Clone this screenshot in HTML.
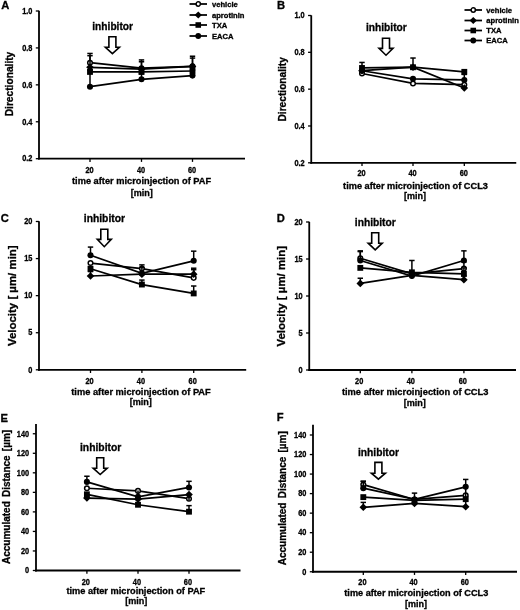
<!DOCTYPE html>
<html><head><meta charset="utf-8"><title>Figure</title>
<style>html,body{margin:0;padding:0;background:#fff;}svg{display:block;will-change:transform;opacity:0.999}text{font-family:"Liberation Sans", sans-serif;font-weight:bold;fill:#000;stroke:#000;stroke-width:0.3px}</style>
</head><body>
<svg width="520" height="610" viewBox="0 0 520 610">
<rect width="520" height="610" fill="#fff"/>
<line x1="39.00" y1="10.80" x2="39.00" y2="159.60" stroke="#000" stroke-width="1.8" stroke-linecap="butt"/>
<line x1="38.10" y1="158.70" x2="245.00" y2="158.70" stroke="#000" stroke-width="1.8" stroke-linecap="butt"/>
<line x1="35.80" y1="11.00" x2="39.00" y2="11.00" stroke="#000" stroke-width="1.3" stroke-linecap="butt"/>
<text transform="translate(32.4 13.75) scale(0.9 1)" font-size="8.2" text-anchor="end">1.0</text>
<line x1="35.80" y1="47.92" x2="39.00" y2="47.92" stroke="#000" stroke-width="1.3" stroke-linecap="butt"/>
<text transform="translate(32.4 50.67) scale(0.9 1)" font-size="8.2" text-anchor="end">0.8</text>
<line x1="35.80" y1="84.85" x2="39.00" y2="84.85" stroke="#000" stroke-width="1.3" stroke-linecap="butt"/>
<text transform="translate(32.4 87.6) scale(0.9 1)" font-size="8.2" text-anchor="end">0.6</text>
<line x1="35.80" y1="121.77" x2="39.00" y2="121.77" stroke="#000" stroke-width="1.3" stroke-linecap="butt"/>
<text transform="translate(32.4 124.52) scale(0.9 1)" font-size="8.2" text-anchor="end">0.4</text>
<line x1="35.80" y1="158.70" x2="39.00" y2="158.70" stroke="#000" stroke-width="1.3" stroke-linecap="butt"/>
<text transform="translate(32.4 161.45) scale(0.9 1)" font-size="8.2" text-anchor="end">0.2</text>
<line x1="90.00" y1="158.70" x2="90.00" y2="161.90" stroke="#000" stroke-width="1.3" stroke-linecap="butt"/>
<text transform="translate(89.5 172.5) scale(0.9 1)" font-size="8.2" text-anchor="middle">20</text>
<line x1="141.50" y1="158.70" x2="141.50" y2="161.90" stroke="#000" stroke-width="1.3" stroke-linecap="butt"/>
<text transform="translate(141.0 172.5) scale(0.9 1)" font-size="8.2" text-anchor="middle">40</text>
<line x1="192.50" y1="158.70" x2="192.50" y2="161.90" stroke="#000" stroke-width="1.3" stroke-linecap="butt"/>
<text transform="translate(192.0 172.5) scale(0.9 1)" font-size="8.2" text-anchor="middle">60</text>
<text x="1.3" y="9.2" font-size="11.2">A</text>
<text x="13.3" y="84.0" font-size="10.2" text-anchor="middle" transform="rotate(-90 13.3 84.0)" textLength="64.6" lengthAdjust="spacingAndGlyphs">Directionality</text>
<text x="141.6" y="184.3" font-size="9.25" text-anchor="middle" textLength="139.2" lengthAdjust="spacingAndGlyphs">time after microinjection of PAF</text>
<text x="141.79999999999998" y="195.5" font-size="9.06" text-anchor="middle">[min]</text>
<text x="92.3" y="29.5" font-size="10.2" textLength="40.7" lengthAdjust="spacingAndGlyphs">inhibitor</text>
<path d="M108.90 36.70H115.90V47.30H119.40L112.40 53.60L105.40 47.30H108.90Z" fill="#fff" stroke="#000" stroke-width="1.6" stroke-linejoin="miter"/>
<polyline points="90.00,62.69 141.50,68.23 192.50,66.39" fill="none" stroke="#000" stroke-width="1.75"/>
<line x1="90.00" y1="62.69" x2="90.00" y2="53.46" stroke="#000" stroke-width="1.5" stroke-linecap="butt"/>
<line x1="87.30" y1="53.46" x2="92.70" y2="53.46" stroke="#000" stroke-width="1.5" stroke-linecap="butt"/>
<line x1="141.50" y1="68.23" x2="141.50" y2="59.93" stroke="#000" stroke-width="1.5" stroke-linecap="butt"/>
<line x1="138.80" y1="59.93" x2="144.20" y2="59.93" stroke="#000" stroke-width="1.5" stroke-linecap="butt"/>
<line x1="192.50" y1="66.39" x2="192.50" y2="58.08" stroke="#000" stroke-width="1.5" stroke-linecap="butt"/>
<line x1="189.80" y1="58.08" x2="195.20" y2="58.08" stroke="#000" stroke-width="1.5" stroke-linecap="butt"/>
<circle cx="90.00" cy="62.69" r="2.30" fill="#fff" stroke="#000" stroke-width="1.5"/>
<circle cx="141.50" cy="68.23" r="2.30" fill="#fff" stroke="#000" stroke-width="1.5"/>
<circle cx="192.50" cy="66.39" r="2.30" fill="#fff" stroke="#000" stroke-width="1.5"/>
<polyline points="90.00,67.31 141.50,69.16 192.50,66.39" fill="none" stroke="#000" stroke-width="1.75"/>
<line x1="90.00" y1="67.31" x2="90.00" y2="55.68" stroke="#000" stroke-width="1.5" stroke-linecap="butt"/>
<line x1="87.30" y1="55.68" x2="92.70" y2="55.68" stroke="#000" stroke-width="1.5" stroke-linecap="butt"/>
<line x1="141.50" y1="69.16" x2="141.50" y2="61.77" stroke="#000" stroke-width="1.5" stroke-linecap="butt"/>
<line x1="138.80" y1="61.77" x2="144.20" y2="61.77" stroke="#000" stroke-width="1.5" stroke-linecap="butt"/>
<line x1="192.50" y1="66.39" x2="192.50" y2="56.23" stroke="#000" stroke-width="1.5" stroke-linecap="butt"/>
<line x1="189.80" y1="56.23" x2="195.20" y2="56.23" stroke="#000" stroke-width="1.5" stroke-linecap="butt"/>
<path d="M86.19 67.31L90.00 63.50L93.81 67.31L90.00 71.12Z" fill="#000"/>
<path d="M137.69 69.16L141.50 65.34L145.31 69.16L141.50 72.97Z" fill="#000"/>
<path d="M188.69 66.39L192.50 62.58L196.31 66.39L192.50 70.20Z" fill="#000"/>
<polyline points="90.00,71.93 141.50,71.93 192.50,71.00" fill="none" stroke="#000" stroke-width="1.75"/>
<rect x="87.07" y="69.00" width="5.86" height="5.86" fill="#000"/>
<rect x="138.57" y="69.00" width="5.86" height="5.86" fill="#000"/>
<rect x="189.57" y="68.08" width="5.86" height="5.86" fill="#000"/>
<polyline points="90.00,86.70 141.50,79.31 192.50,75.62" fill="none" stroke="#000" stroke-width="1.75"/>
<line x1="90.00" y1="86.70" x2="90.00" y2="70.08" stroke="#000" stroke-width="1.5" stroke-linecap="butt"/>
<line x1="87.30" y1="70.08" x2="92.70" y2="70.08" stroke="#000" stroke-width="1.5" stroke-linecap="butt"/>
<line x1="141.50" y1="79.31" x2="141.50" y2="73.77" stroke="#000" stroke-width="1.5" stroke-linecap="butt"/>
<line x1="138.80" y1="73.77" x2="144.20" y2="73.77" stroke="#000" stroke-width="1.5" stroke-linecap="butt"/>
<line x1="192.50" y1="75.62" x2="192.50" y2="70.08" stroke="#000" stroke-width="1.5" stroke-linecap="butt"/>
<line x1="189.80" y1="70.08" x2="195.20" y2="70.08" stroke="#000" stroke-width="1.5" stroke-linecap="butt"/>
<circle cx="90.00" cy="86.70" r="3.05" fill="#000"/>
<circle cx="141.50" cy="79.31" r="3.05" fill="#000"/>
<circle cx="192.50" cy="75.62" r="3.05" fill="#000"/>
<line x1="189.50" y1="4.00" x2="207.00" y2="4.00" stroke="#000" stroke-width="1.75" stroke-linecap="butt"/>
<circle cx="198.25" cy="4.00" r="2.15" fill="#fff" stroke="#000" stroke-width="1.5"/>
<text x="212" y="6.5" font-size="7.6">vehicle</text>
<line x1="189.50" y1="15.00" x2="207.00" y2="15.00" stroke="#000" stroke-width="1.75" stroke-linecap="butt"/>
<path d="M194.62 15.00L198.25 11.38L201.88 15.00L198.25 18.62Z" fill="#000"/>
<text x="212" y="17.5" font-size="7.6">aprotinin</text>
<line x1="189.50" y1="25.00" x2="207.00" y2="25.00" stroke="#000" stroke-width="1.75" stroke-linecap="butt"/>
<rect x="195.47" y="22.22" width="5.57" height="5.57" fill="#000"/>
<text x="212" y="27.5" font-size="7.6">TXA</text>
<line x1="189.50" y1="36.00" x2="207.00" y2="36.00" stroke="#000" stroke-width="1.75" stroke-linecap="butt"/>
<circle cx="198.25" cy="36.00" r="2.90" fill="#000"/>
<text x="212" y="38.5" font-size="7.6">EACA</text>
<line x1="311.25" y1="15.30" x2="311.25" y2="163.70" stroke="#000" stroke-width="1.8" stroke-linecap="butt"/>
<line x1="310.35" y1="162.80" x2="516.25" y2="162.80" stroke="#000" stroke-width="1.8" stroke-linecap="butt"/>
<line x1="308.05" y1="15.50" x2="311.25" y2="15.50" stroke="#000" stroke-width="1.3" stroke-linecap="butt"/>
<text transform="translate(304.65 18.25) scale(0.9 1)" font-size="8.2" text-anchor="end">1.0</text>
<line x1="308.05" y1="52.32" x2="311.25" y2="52.32" stroke="#000" stroke-width="1.3" stroke-linecap="butt"/>
<text transform="translate(304.65 55.07) scale(0.9 1)" font-size="8.2" text-anchor="end">0.8</text>
<line x1="308.05" y1="89.15" x2="311.25" y2="89.15" stroke="#000" stroke-width="1.3" stroke-linecap="butt"/>
<text transform="translate(304.65 91.9) scale(0.9 1)" font-size="8.2" text-anchor="end">0.6</text>
<line x1="308.05" y1="125.98" x2="311.25" y2="125.98" stroke="#000" stroke-width="1.3" stroke-linecap="butt"/>
<text transform="translate(304.65 128.73) scale(0.9 1)" font-size="8.2" text-anchor="end">0.4</text>
<line x1="308.05" y1="162.80" x2="311.25" y2="162.80" stroke="#000" stroke-width="1.3" stroke-linecap="butt"/>
<text transform="translate(304.65 165.55) scale(0.9 1)" font-size="8.2" text-anchor="end">0.2</text>
<line x1="362.00" y1="162.80" x2="362.00" y2="166.00" stroke="#000" stroke-width="1.3" stroke-linecap="butt"/>
<text transform="translate(361.5 176.4) scale(0.9 1)" font-size="8.2" text-anchor="middle">20</text>
<line x1="413.00" y1="162.80" x2="413.00" y2="166.00" stroke="#000" stroke-width="1.3" stroke-linecap="butt"/>
<text transform="translate(412.5 176.4) scale(0.9 1)" font-size="8.2" text-anchor="middle">40</text>
<line x1="464.30" y1="162.80" x2="464.30" y2="166.00" stroke="#000" stroke-width="1.3" stroke-linecap="butt"/>
<text transform="translate(463.8 176.4) scale(0.9 1)" font-size="8.2" text-anchor="middle">60</text>
<text x="276.9" y="9.3" font-size="11.2">B</text>
<text x="286.3" y="89.3" font-size="10.2" text-anchor="middle" transform="rotate(-90 286.3 89.3)" textLength="64.4" lengthAdjust="spacingAndGlyphs">Directionality</text>
<text x="415.5" y="188.5" font-size="9.2" text-anchor="middle" textLength="144.8" lengthAdjust="spacingAndGlyphs">time after microinjection of CCL3</text>
<text x="415.1" y="199.4" font-size="9.02" text-anchor="middle">[min]</text>
<text x="366.0" y="31.3" font-size="10.2" textLength="40.7" lengthAdjust="spacingAndGlyphs">inhibitor</text>
<path d="M382.50 38.30H389.50V48.40H393.00L386.00 55.20L379.00 48.40H382.50Z" fill="#fff" stroke="#000" stroke-width="1.6" stroke-linejoin="miter"/>
<polyline points="362.00,73.50 413.00,83.44 464.30,84.73" fill="none" stroke="#000" stroke-width="1.75"/>
<circle cx="362.00" cy="73.50" r="2.30" fill="#fff" stroke="#000" stroke-width="1.5"/>
<circle cx="413.00" cy="83.44" r="2.30" fill="#fff" stroke="#000" stroke-width="1.5"/>
<circle cx="464.30" cy="84.73" r="2.30" fill="#fff" stroke="#000" stroke-width="1.5"/>
<polyline points="362.00,70.74 413.00,67.24 464.30,88.05" fill="none" stroke="#000" stroke-width="1.75"/>
<line x1="413.00" y1="67.24" x2="413.00" y2="58.03" stroke="#000" stroke-width="1.5" stroke-linecap="butt"/>
<line x1="410.30" y1="58.03" x2="415.70" y2="58.03" stroke="#000" stroke-width="1.5" stroke-linecap="butt"/>
<path d="M358.19 70.74L362.00 66.93L365.81 70.74L362.00 74.55Z" fill="#000"/>
<path d="M409.19 67.24L413.00 63.43L416.81 67.24L413.00 71.05Z" fill="#000"/>
<path d="M460.49 88.05L464.30 84.23L468.11 88.05L464.30 91.86Z" fill="#000"/>
<polyline points="362.00,67.98 413.00,67.24 464.30,71.84" fill="none" stroke="#000" stroke-width="1.75"/>
<line x1="362.00" y1="67.98" x2="362.00" y2="62.45" stroke="#000" stroke-width="1.5" stroke-linecap="butt"/>
<line x1="359.30" y1="62.45" x2="364.70" y2="62.45" stroke="#000" stroke-width="1.5" stroke-linecap="butt"/>
<rect x="359.07" y="65.05" width="5.86" height="5.86" fill="#000"/>
<rect x="410.07" y="64.31" width="5.86" height="5.86" fill="#000"/>
<rect x="461.37" y="68.91" width="5.86" height="5.86" fill="#000"/>
<polyline points="362.00,70.74 413.00,78.84 464.30,79.94" fill="none" stroke="#000" stroke-width="1.75"/>
<line x1="464.30" y1="79.94" x2="464.30" y2="74.42" stroke="#000" stroke-width="1.5" stroke-linecap="butt"/>
<line x1="461.60" y1="74.42" x2="467.00" y2="74.42" stroke="#000" stroke-width="1.5" stroke-linecap="butt"/>
<circle cx="362.00" cy="70.74" r="3.05" fill="#000"/>
<circle cx="413.00" cy="78.84" r="3.05" fill="#000"/>
<circle cx="464.30" cy="79.94" r="3.05" fill="#000"/>
<line x1="464.50" y1="10.00" x2="482.00" y2="10.00" stroke="#000" stroke-width="1.75" stroke-linecap="butt"/>
<circle cx="473.25" cy="10.00" r="2.15" fill="#fff" stroke="#000" stroke-width="1.5"/>
<text x="486.3" y="12.5" font-size="7.6">vehicle</text>
<line x1="464.50" y1="20.50" x2="482.00" y2="20.50" stroke="#000" stroke-width="1.75" stroke-linecap="butt"/>
<path d="M469.62 20.50L473.25 16.88L476.88 20.50L473.25 24.12Z" fill="#000"/>
<text x="486.3" y="23.0" font-size="7.6">aprotinin</text>
<line x1="464.50" y1="30.50" x2="482.00" y2="30.50" stroke="#000" stroke-width="1.75" stroke-linecap="butt"/>
<rect x="470.47" y="27.72" width="5.57" height="5.57" fill="#000"/>
<text x="486.3" y="33.0" font-size="7.6">TXA</text>
<line x1="464.50" y1="40.50" x2="482.00" y2="40.50" stroke="#000" stroke-width="1.75" stroke-linecap="butt"/>
<circle cx="473.25" cy="40.50" r="2.90" fill="#000"/>
<text x="486.3" y="43.0" font-size="7.6">EACA</text>
<line x1="39.00" y1="221.30" x2="39.00" y2="370.70" stroke="#000" stroke-width="1.8" stroke-linecap="butt"/>
<line x1="38.10" y1="369.80" x2="246.20" y2="369.80" stroke="#000" stroke-width="1.8" stroke-linecap="butt"/>
<line x1="35.80" y1="221.50" x2="39.00" y2="221.50" stroke="#000" stroke-width="1.3" stroke-linecap="butt"/>
<text transform="translate(32.4 224.25) scale(0.9 1)" font-size="8.2" text-anchor="end">20</text>
<line x1="35.80" y1="258.58" x2="39.00" y2="258.58" stroke="#000" stroke-width="1.3" stroke-linecap="butt"/>
<text transform="translate(32.4 261.33) scale(0.9 1)" font-size="8.2" text-anchor="end">15</text>
<line x1="35.80" y1="295.65" x2="39.00" y2="295.65" stroke="#000" stroke-width="1.3" stroke-linecap="butt"/>
<text transform="translate(32.4 298.4) scale(0.9 1)" font-size="8.2" text-anchor="end">10</text>
<line x1="35.80" y1="332.73" x2="39.00" y2="332.73" stroke="#000" stroke-width="1.3" stroke-linecap="butt"/>
<text transform="translate(32.4 335.48) scale(0.9 1)" font-size="8.2" text-anchor="end">5</text>
<line x1="35.80" y1="369.80" x2="39.00" y2="369.80" stroke="#000" stroke-width="1.3" stroke-linecap="butt"/>
<text transform="translate(32.4 372.55) scale(0.9 1)" font-size="8.2" text-anchor="end">0</text>
<line x1="90.50" y1="369.80" x2="90.50" y2="373.00" stroke="#000" stroke-width="1.3" stroke-linecap="butt"/>
<text transform="translate(89.5 383.5) scale(0.9 1)" font-size="8.2" text-anchor="middle">20</text>
<line x1="141.90" y1="369.80" x2="141.90" y2="373.00" stroke="#000" stroke-width="1.3" stroke-linecap="butt"/>
<text transform="translate(140.9 383.5) scale(0.9 1)" font-size="8.2" text-anchor="middle">40</text>
<line x1="193.70" y1="369.80" x2="193.70" y2="373.00" stroke="#000" stroke-width="1.3" stroke-linecap="butt"/>
<text transform="translate(192.7 383.5) scale(0.9 1)" font-size="8.2" text-anchor="middle">60</text>
<text x="0.7" y="222.2" font-size="11.2">C</text>
<text x="15.8" y="295.7" font-size="11.4" text-anchor="middle" transform="rotate(-90 15.8 295.7)" textLength="100.6" lengthAdjust="spacingAndGlyphs">Velocity [ µm/ min]</text>
<text x="141.0" y="394.9" font-size="9.3" text-anchor="middle" textLength="139.5" lengthAdjust="spacingAndGlyphs">time after microinjection of PAF</text>
<text x="140.8" y="405.29999999999995" font-size="9.11" text-anchor="middle">[min]</text>
<text x="83.8" y="222.2" font-size="10.2" textLength="41.2" lengthAdjust="spacingAndGlyphs">inhibitor</text>
<path d="M100.80 229.30H107.80V239.40H111.30L104.30 246.70L97.30 239.40H100.80Z" fill="#fff" stroke="#000" stroke-width="1.6" stroke-linejoin="miter"/>
<polyline points="90.50,263.02 141.90,268.59 193.70,277.85" fill="none" stroke="#000" stroke-width="1.75"/>
<line x1="141.90" y1="268.59" x2="141.90" y2="264.88" stroke="#000" stroke-width="1.5" stroke-linecap="butt"/>
<line x1="139.20" y1="264.88" x2="144.60" y2="264.88" stroke="#000" stroke-width="1.5" stroke-linecap="butt"/>
<line x1="193.70" y1="277.85" x2="193.70" y2="269.70" stroke="#000" stroke-width="1.5" stroke-linecap="butt"/>
<line x1="191.00" y1="269.70" x2="196.40" y2="269.70" stroke="#000" stroke-width="1.5" stroke-linecap="butt"/>
<circle cx="90.50" cy="263.02" r="2.30" fill="#fff" stroke="#000" stroke-width="1.5"/>
<circle cx="141.90" cy="268.59" r="2.30" fill="#fff" stroke="#000" stroke-width="1.5"/>
<circle cx="193.70" cy="277.85" r="2.30" fill="#fff" stroke="#000" stroke-width="1.5"/>
<polyline points="90.50,276.00 141.90,274.15 193.70,274.15" fill="none" stroke="#000" stroke-width="1.75"/>
<line x1="90.50" y1="276.00" x2="90.50" y2="271.55" stroke="#000" stroke-width="1.5" stroke-linecap="butt"/>
<line x1="87.80" y1="271.55" x2="93.20" y2="271.55" stroke="#000" stroke-width="1.5" stroke-linecap="butt"/>
<line x1="193.70" y1="274.15" x2="193.70" y2="268.21" stroke="#000" stroke-width="1.5" stroke-linecap="butt"/>
<line x1="191.00" y1="268.21" x2="196.40" y2="268.21" stroke="#000" stroke-width="1.5" stroke-linecap="butt"/>
<path d="M86.69 276.00L90.50 272.19L94.31 276.00L90.50 279.81Z" fill="#000"/>
<path d="M138.09 274.15L141.90 270.33L145.71 274.15L141.90 277.96Z" fill="#000"/>
<path d="M189.89 274.15L193.70 270.33L197.51 274.15L193.70 277.96Z" fill="#000"/>
<polyline points="90.50,268.73 141.90,284.53 193.70,293.43" fill="none" stroke="#000" stroke-width="1.75"/>
<line x1="141.90" y1="284.53" x2="141.90" y2="280.08" stroke="#000" stroke-width="1.5" stroke-linecap="butt"/>
<line x1="139.20" y1="280.08" x2="144.60" y2="280.08" stroke="#000" stroke-width="1.5" stroke-linecap="butt"/>
<line x1="193.70" y1="293.43" x2="193.70" y2="286.01" stroke="#000" stroke-width="1.5" stroke-linecap="butt"/>
<line x1="191.00" y1="286.01" x2="196.40" y2="286.01" stroke="#000" stroke-width="1.5" stroke-linecap="butt"/>
<rect x="87.57" y="265.81" width="5.86" height="5.86" fill="#000"/>
<rect x="138.97" y="281.60" width="5.86" height="5.86" fill="#000"/>
<rect x="190.77" y="290.50" width="5.86" height="5.86" fill="#000"/>
<polyline points="90.50,255.24 141.90,273.40 193.70,260.80" fill="none" stroke="#000" stroke-width="1.75"/>
<line x1="90.50" y1="255.24" x2="90.50" y2="247.08" stroke="#000" stroke-width="1.5" stroke-linecap="butt"/>
<line x1="87.80" y1="247.08" x2="93.20" y2="247.08" stroke="#000" stroke-width="1.5" stroke-linecap="butt"/>
<line x1="141.90" y1="273.40" x2="141.90" y2="267.47" stroke="#000" stroke-width="1.5" stroke-linecap="butt"/>
<line x1="139.20" y1="267.47" x2="144.60" y2="267.47" stroke="#000" stroke-width="1.5" stroke-linecap="butt"/>
<line x1="193.70" y1="260.80" x2="193.70" y2="251.16" stroke="#000" stroke-width="1.5" stroke-linecap="butt"/>
<line x1="191.00" y1="251.16" x2="196.40" y2="251.16" stroke="#000" stroke-width="1.5" stroke-linecap="butt"/>
<circle cx="90.50" cy="255.24" r="3.05" fill="#000"/>
<circle cx="141.90" cy="273.40" r="3.05" fill="#000"/>
<circle cx="193.70" cy="260.80" r="3.05" fill="#000"/>
<line x1="309.25" y1="221.80" x2="309.25" y2="370.90" stroke="#000" stroke-width="1.8" stroke-linecap="butt"/>
<line x1="308.35" y1="370.00" x2="516.00" y2="370.00" stroke="#000" stroke-width="1.8" stroke-linecap="butt"/>
<line x1="306.05" y1="222.00" x2="309.25" y2="222.00" stroke="#000" stroke-width="1.3" stroke-linecap="butt"/>
<text transform="translate(302.65 224.75) scale(0.9 1)" font-size="8.2" text-anchor="end">20</text>
<line x1="306.05" y1="259.00" x2="309.25" y2="259.00" stroke="#000" stroke-width="1.3" stroke-linecap="butt"/>
<text transform="translate(302.65 261.75) scale(0.9 1)" font-size="8.2" text-anchor="end">15</text>
<line x1="306.05" y1="296.00" x2="309.25" y2="296.00" stroke="#000" stroke-width="1.3" stroke-linecap="butt"/>
<text transform="translate(302.65 298.75) scale(0.9 1)" font-size="8.2" text-anchor="end">10</text>
<line x1="306.05" y1="333.00" x2="309.25" y2="333.00" stroke="#000" stroke-width="1.3" stroke-linecap="butt"/>
<text transform="translate(302.65 335.75) scale(0.9 1)" font-size="8.2" text-anchor="end">5</text>
<line x1="306.05" y1="370.00" x2="309.25" y2="370.00" stroke="#000" stroke-width="1.3" stroke-linecap="butt"/>
<text transform="translate(302.65 372.75) scale(0.9 1)" font-size="8.2" text-anchor="end">0</text>
<line x1="360.30" y1="370.00" x2="360.30" y2="373.20" stroke="#000" stroke-width="1.3" stroke-linecap="butt"/>
<text transform="translate(359.2 383.8) scale(0.9 1)" font-size="8.2" text-anchor="middle">20</text>
<line x1="411.90" y1="370.00" x2="411.90" y2="373.20" stroke="#000" stroke-width="1.3" stroke-linecap="butt"/>
<text transform="translate(410.79999999999995 383.8) scale(0.9 1)" font-size="8.2" text-anchor="middle">40</text>
<line x1="463.90" y1="370.00" x2="463.90" y2="373.20" stroke="#000" stroke-width="1.3" stroke-linecap="butt"/>
<text transform="translate(462.79999999999995 383.8) scale(0.9 1)" font-size="8.2" text-anchor="middle">60</text>
<text x="276.7" y="222.1" font-size="11.2">D</text>
<text x="285.5" y="296.2" font-size="11.4" text-anchor="middle" transform="rotate(-90 285.5 296.2)" textLength="100.6" lengthAdjust="spacingAndGlyphs">Velocity [ µm/ min]</text>
<text x="415.2" y="395.1" font-size="9.3" text-anchor="middle" textLength="146.6" lengthAdjust="spacingAndGlyphs">time after microinjection of CCL3</text>
<text x="414.8" y="406.1" font-size="9.11" text-anchor="middle">[min]</text>
<text x="354.8" y="225.5" font-size="10.2" textLength="41.0" lengthAdjust="spacingAndGlyphs">inhibitor</text>
<path d="M371.70 232.70H378.70V243.20H382.20L375.20 249.80L368.20 243.20H371.70Z" fill="#fff" stroke="#000" stroke-width="1.6" stroke-linejoin="miter"/>
<polyline points="360.30,258.26 411.90,273.80 463.90,268.62" fill="none" stroke="#000" stroke-width="1.75"/>
<line x1="360.30" y1="258.26" x2="360.30" y2="250.86" stroke="#000" stroke-width="1.5" stroke-linecap="butt"/>
<line x1="357.60" y1="250.86" x2="363.00" y2="250.86" stroke="#000" stroke-width="1.5" stroke-linecap="butt"/>
<line x1="463.90" y1="268.62" x2="463.90" y2="261.96" stroke="#000" stroke-width="1.5" stroke-linecap="butt"/>
<line x1="461.20" y1="261.96" x2="466.60" y2="261.96" stroke="#000" stroke-width="1.5" stroke-linecap="butt"/>
<circle cx="360.30" cy="258.26" r="2.30" fill="#fff" stroke="#000" stroke-width="1.5"/>
<circle cx="411.90" cy="273.80" r="2.30" fill="#fff" stroke="#000" stroke-width="1.5"/>
<circle cx="463.90" cy="268.62" r="2.30" fill="#fff" stroke="#000" stroke-width="1.5"/>
<polyline points="360.30,283.42 411.90,275.28 463.90,279.72" fill="none" stroke="#000" stroke-width="1.75"/>
<line x1="360.30" y1="283.42" x2="360.30" y2="278.24" stroke="#000" stroke-width="1.5" stroke-linecap="butt"/>
<line x1="357.60" y1="278.24" x2="363.00" y2="278.24" stroke="#000" stroke-width="1.5" stroke-linecap="butt"/>
<line x1="463.90" y1="279.72" x2="463.90" y2="276.02" stroke="#000" stroke-width="1.5" stroke-linecap="butt"/>
<line x1="461.20" y1="276.02" x2="466.60" y2="276.02" stroke="#000" stroke-width="1.5" stroke-linecap="butt"/>
<path d="M356.49 283.42L360.30 279.61L364.11 283.42L360.30 287.23Z" fill="#000"/>
<path d="M408.09 275.28L411.90 271.47L415.71 275.28L411.90 279.09Z" fill="#000"/>
<path d="M460.09 279.72L463.90 275.91L467.71 279.72L463.90 283.53Z" fill="#000"/>
<polyline points="360.30,267.88 411.90,272.32 463.90,273.80" fill="none" stroke="#000" stroke-width="1.75"/>
<line x1="411.90" y1="272.32" x2="411.90" y2="260.48" stroke="#000" stroke-width="1.5" stroke-linecap="butt"/>
<line x1="409.20" y1="260.48" x2="414.60" y2="260.48" stroke="#000" stroke-width="1.5" stroke-linecap="butt"/>
<line x1="463.90" y1="273.80" x2="463.90" y2="267.88" stroke="#000" stroke-width="1.5" stroke-linecap="butt"/>
<line x1="461.20" y1="267.88" x2="466.60" y2="267.88" stroke="#000" stroke-width="1.5" stroke-linecap="butt"/>
<rect x="357.37" y="264.95" width="5.86" height="5.86" fill="#000"/>
<rect x="408.97" y="269.39" width="5.86" height="5.86" fill="#000"/>
<rect x="460.97" y="270.87" width="5.86" height="5.86" fill="#000"/>
<polyline points="360.30,260.48 411.90,276.02 463.90,260.48" fill="none" stroke="#000" stroke-width="1.75"/>
<line x1="360.30" y1="260.48" x2="360.30" y2="251.60" stroke="#000" stroke-width="1.5" stroke-linecap="butt"/>
<line x1="357.60" y1="251.60" x2="363.00" y2="251.60" stroke="#000" stroke-width="1.5" stroke-linecap="butt"/>
<line x1="463.90" y1="260.48" x2="463.90" y2="250.86" stroke="#000" stroke-width="1.5" stroke-linecap="butt"/>
<line x1="461.20" y1="250.86" x2="466.60" y2="250.86" stroke="#000" stroke-width="1.5" stroke-linecap="butt"/>
<circle cx="360.30" cy="260.48" r="3.05" fill="#000"/>
<circle cx="411.90" cy="276.02" r="3.05" fill="#000"/>
<circle cx="463.90" cy="260.48" r="3.05" fill="#000"/>
<line x1="36.00" y1="423.90" x2="36.00" y2="571.40" stroke="#000" stroke-width="1.8" stroke-linecap="butt"/>
<line x1="35.10" y1="570.50" x2="240.50" y2="570.50" stroke="#000" stroke-width="1.8" stroke-linecap="butt"/>
<line x1="32.80" y1="433.75" x2="36.00" y2="433.75" stroke="#000" stroke-width="1.3" stroke-linecap="butt"/>
<text transform="translate(29.099999999999998 436.5) scale(0.9 1)" font-size="8.2" text-anchor="end">140</text>
<line x1="32.80" y1="453.29" x2="36.00" y2="453.29" stroke="#000" stroke-width="1.3" stroke-linecap="butt"/>
<text transform="translate(29.099999999999998 456.04) scale(0.9 1)" font-size="8.2" text-anchor="end">120</text>
<line x1="32.80" y1="472.82" x2="36.00" y2="472.82" stroke="#000" stroke-width="1.3" stroke-linecap="butt"/>
<text transform="translate(29.099999999999998 475.57) scale(0.9 1)" font-size="8.2" text-anchor="end">100</text>
<line x1="32.80" y1="492.36" x2="36.00" y2="492.36" stroke="#000" stroke-width="1.3" stroke-linecap="butt"/>
<text transform="translate(29.099999999999998 495.11) scale(0.9 1)" font-size="8.2" text-anchor="end">80</text>
<line x1="32.80" y1="511.89" x2="36.00" y2="511.89" stroke="#000" stroke-width="1.3" stroke-linecap="butt"/>
<text transform="translate(29.099999999999998 514.64) scale(0.9 1)" font-size="8.2" text-anchor="end">60</text>
<line x1="32.80" y1="531.43" x2="36.00" y2="531.43" stroke="#000" stroke-width="1.3" stroke-linecap="butt"/>
<text transform="translate(29.099999999999998 534.18) scale(0.9 1)" font-size="8.2" text-anchor="end">40</text>
<line x1="32.80" y1="550.96" x2="36.00" y2="550.96" stroke="#000" stroke-width="1.3" stroke-linecap="butt"/>
<text transform="translate(29.099999999999998 553.71) scale(0.9 1)" font-size="8.2" text-anchor="end">20</text>
<line x1="32.80" y1="570.50" x2="36.00" y2="570.50" stroke="#000" stroke-width="1.3" stroke-linecap="butt"/>
<text transform="translate(29.099999999999998 573.25) scale(0.9 1)" font-size="8.2" text-anchor="end">0</text>
<line x1="86.90" y1="570.50" x2="86.90" y2="573.70" stroke="#000" stroke-width="1.3" stroke-linecap="butt"/>
<text transform="translate(85.80000000000001 584.5) scale(0.9 1)" font-size="8.2" text-anchor="middle">20</text>
<line x1="138.00" y1="570.50" x2="138.00" y2="573.70" stroke="#000" stroke-width="1.3" stroke-linecap="butt"/>
<text transform="translate(136.9 584.5) scale(0.9 1)" font-size="8.2" text-anchor="middle">40</text>
<line x1="189.00" y1="570.50" x2="189.00" y2="573.70" stroke="#000" stroke-width="1.3" stroke-linecap="butt"/>
<text transform="translate(187.9 584.5) scale(0.9 1)" font-size="8.2" text-anchor="middle">60</text>
<text x="0.4" y="421.6" font-size="11.2">E</text>
<text x="9.9" y="564.0" font-size="10.0" word-spacing="1.4" transform="rotate(-90 9.9 564.0)">Accumulated Distance [µm]</text>
<text x="135.8" y="594.1" font-size="9.25" text-anchor="middle" textLength="138.8" lengthAdjust="spacingAndGlyphs">time after microinjection of PAF</text>
<text x="136.3" y="604.3000000000001" font-size="9.06" text-anchor="middle">[min]</text>
<text x="80.0" y="451" font-size="10.2" textLength="41.3" lengthAdjust="spacingAndGlyphs">inhibitor</text>
<path d="M96.70 457.70H103.70V468.20H107.20L100.20 474.50L93.20 468.20H96.70Z" fill="#fff" stroke="#000" stroke-width="1.6" stroke-linejoin="miter"/>
<polyline points="86.90,488.25 138.00,490.89 189.00,498.71" fill="none" stroke="#000" stroke-width="1.75"/>
<circle cx="86.90" cy="488.25" r="2.30" fill="#fff" stroke="#000" stroke-width="1.5"/>
<circle cx="138.00" cy="490.89" r="2.30" fill="#fff" stroke="#000" stroke-width="1.5"/>
<circle cx="189.00" cy="498.71" r="2.30" fill="#fff" stroke="#000" stroke-width="1.5"/>
<polyline points="86.90,498.02 138.00,499.19 189.00,494.60" fill="none" stroke="#000" stroke-width="1.75"/>
<path d="M83.09 498.02L86.90 494.21L90.71 498.02L86.90 501.83Z" fill="#000"/>
<path d="M134.19 499.19L138.00 495.38L141.81 499.19L138.00 503.01Z" fill="#000"/>
<path d="M185.19 494.60L189.00 490.79L192.81 494.60L189.00 498.42Z" fill="#000"/>
<polyline points="86.90,494.31 138.00,504.76 189.00,511.70" fill="none" stroke="#000" stroke-width="1.75"/>
<line x1="189.00" y1="511.70" x2="189.00" y2="505.64" stroke="#000" stroke-width="1.5" stroke-linecap="butt"/>
<line x1="186.30" y1="505.64" x2="191.70" y2="505.64" stroke="#000" stroke-width="1.5" stroke-linecap="butt"/>
<rect x="83.97" y="491.38" width="5.86" height="5.86" fill="#000"/>
<rect x="135.07" y="501.83" width="5.86" height="5.86" fill="#000"/>
<rect x="186.07" y="508.77" width="5.86" height="5.86" fill="#000"/>
<polyline points="86.90,481.91 138.00,496.75 189.00,487.47" fill="none" stroke="#000" stroke-width="1.75"/>
<line x1="86.90" y1="481.91" x2="86.90" y2="476.24" stroke="#000" stroke-width="1.5" stroke-linecap="butt"/>
<line x1="84.20" y1="476.24" x2="89.60" y2="476.24" stroke="#000" stroke-width="1.5" stroke-linecap="butt"/>
<line x1="189.00" y1="487.47" x2="189.00" y2="481.32" stroke="#000" stroke-width="1.5" stroke-linecap="butt"/>
<line x1="186.30" y1="481.32" x2="191.70" y2="481.32" stroke="#000" stroke-width="1.5" stroke-linecap="butt"/>
<circle cx="86.90" cy="481.91" r="3.05" fill="#000"/>
<circle cx="138.00" cy="496.75" r="3.05" fill="#000"/>
<circle cx="189.00" cy="487.47" r="3.05" fill="#000"/>
<line x1="138.00" y1="504.08" x2="138.00" y2="490.40" stroke="#000" stroke-width="1.5" stroke-linecap="butt"/>
<line x1="189.00" y1="500.17" x2="189.00" y2="492.36" stroke="#000" stroke-width="1.5" stroke-linecap="butt"/>
<line x1="313.00" y1="424.80" x2="313.00" y2="572.65" stroke="#000" stroke-width="1.8" stroke-linecap="butt"/>
<line x1="312.10" y1="571.75" x2="517.00" y2="571.75" stroke="#000" stroke-width="1.8" stroke-linecap="butt"/>
<line x1="309.80" y1="435.00" x2="313.00" y2="435.00" stroke="#000" stroke-width="1.3" stroke-linecap="butt"/>
<text transform="translate(306.4 437.75) scale(0.9 1)" font-size="8.2" text-anchor="end">140</text>
<line x1="309.80" y1="454.54" x2="313.00" y2="454.54" stroke="#000" stroke-width="1.3" stroke-linecap="butt"/>
<text transform="translate(306.4 457.29) scale(0.9 1)" font-size="8.2" text-anchor="end">120</text>
<line x1="309.80" y1="474.07" x2="313.00" y2="474.07" stroke="#000" stroke-width="1.3" stroke-linecap="butt"/>
<text transform="translate(306.4 476.82) scale(0.9 1)" font-size="8.2" text-anchor="end">100</text>
<line x1="309.80" y1="493.61" x2="313.00" y2="493.61" stroke="#000" stroke-width="1.3" stroke-linecap="butt"/>
<text transform="translate(306.4 496.36) scale(0.9 1)" font-size="8.2" text-anchor="end">80</text>
<line x1="309.80" y1="513.14" x2="313.00" y2="513.14" stroke="#000" stroke-width="1.3" stroke-linecap="butt"/>
<text transform="translate(306.4 515.89) scale(0.9 1)" font-size="8.2" text-anchor="end">60</text>
<line x1="309.80" y1="532.68" x2="313.00" y2="532.68" stroke="#000" stroke-width="1.3" stroke-linecap="butt"/>
<text transform="translate(306.4 535.43) scale(0.9 1)" font-size="8.2" text-anchor="end">40</text>
<line x1="309.80" y1="552.21" x2="313.00" y2="552.21" stroke="#000" stroke-width="1.3" stroke-linecap="butt"/>
<text transform="translate(306.4 554.96) scale(0.9 1)" font-size="8.2" text-anchor="end">20</text>
<line x1="309.80" y1="571.75" x2="313.00" y2="571.75" stroke="#000" stroke-width="1.3" stroke-linecap="butt"/>
<text transform="translate(306.4 574.5) scale(0.9 1)" font-size="8.2" text-anchor="end">0</text>
<line x1="363.30" y1="571.75" x2="363.30" y2="574.95" stroke="#000" stroke-width="1.3" stroke-linecap="butt"/>
<text transform="translate(362.40000000000003 585.4) scale(0.9 1)" font-size="8.2" text-anchor="middle">20</text>
<line x1="414.50" y1="571.75" x2="414.50" y2="574.95" stroke="#000" stroke-width="1.3" stroke-linecap="butt"/>
<text transform="translate(413.6 585.4) scale(0.9 1)" font-size="8.2" text-anchor="middle">40</text>
<line x1="465.70" y1="571.75" x2="465.70" y2="574.95" stroke="#000" stroke-width="1.3" stroke-linecap="butt"/>
<text transform="translate(464.8 585.4) scale(0.9 1)" font-size="8.2" text-anchor="middle">60</text>
<text x="276.7" y="421.4" font-size="11.2">F</text>
<text x="286.2" y="565.3" font-size="10.0" word-spacing="1.4" transform="rotate(-90 286.2 565.3)">Accumulated Distance [µm]</text>
<text x="416.3" y="596.2" font-size="9.2" text-anchor="middle" textLength="144" lengthAdjust="spacingAndGlyphs">time after microinjection of CCL3</text>
<text x="415.90000000000003" y="607.0" font-size="9.02" text-anchor="middle">[min]</text>
<text x="358.0" y="456.0" font-size="10.2" textLength="41.0" lengthAdjust="spacingAndGlyphs">inhibitor</text>
<path d="M374.90 462.40H381.90V473.20H385.40L378.40 479.10L371.40 473.20H374.90Z" fill="#fff" stroke="#000" stroke-width="1.6" stroke-linejoin="miter"/>
<polyline points="363.30,484.62 414.50,499.47 465.70,495.37" fill="none" stroke="#000" stroke-width="1.75"/>
<line x1="363.30" y1="484.62" x2="363.30" y2="481.30" stroke="#000" stroke-width="1.5" stroke-linecap="butt"/>
<line x1="360.60" y1="481.30" x2="366.00" y2="481.30" stroke="#000" stroke-width="1.5" stroke-linecap="butt"/>
<circle cx="363.30" cy="484.62" r="2.30" fill="#fff" stroke="#000" stroke-width="1.5"/>
<circle cx="414.50" cy="499.47" r="2.30" fill="#fff" stroke="#000" stroke-width="1.5"/>
<circle cx="465.70" cy="495.37" r="2.30" fill="#fff" stroke="#000" stroke-width="1.5"/>
<polyline points="363.30,507.28 414.50,503.38 465.70,506.70" fill="none" stroke="#000" stroke-width="1.75"/>
<line x1="363.30" y1="507.28" x2="363.30" y2="502.40" stroke="#000" stroke-width="1.5" stroke-linecap="butt"/>
<line x1="360.60" y1="502.40" x2="366.00" y2="502.40" stroke="#000" stroke-width="1.5" stroke-linecap="butt"/>
<path d="M359.49 507.28L363.30 503.47L367.11 507.28L363.30 511.09Z" fill="#000"/>
<path d="M410.69 503.38L414.50 499.56L418.31 503.38L414.50 507.19Z" fill="#000"/>
<path d="M461.89 506.70L465.70 502.88L469.51 506.70L465.70 510.51Z" fill="#000"/>
<polyline points="363.30,497.12 414.50,500.44 465.70,499.17" fill="none" stroke="#000" stroke-width="1.75"/>
<rect x="360.37" y="494.20" width="5.86" height="5.86" fill="#000"/>
<rect x="411.57" y="497.52" width="5.86" height="5.86" fill="#000"/>
<rect x="462.77" y="496.25" width="5.86" height="5.86" fill="#000"/>
<polyline points="363.30,488.14 414.50,499.47 465.70,486.87" fill="none" stroke="#000" stroke-width="1.75"/>
<line x1="363.30" y1="488.14" x2="363.30" y2="481.30" stroke="#000" stroke-width="1.5" stroke-linecap="butt"/>
<line x1="360.60" y1="481.30" x2="366.00" y2="481.30" stroke="#000" stroke-width="1.5" stroke-linecap="butt"/>
<line x1="414.50" y1="499.47" x2="414.50" y2="493.12" stroke="#000" stroke-width="1.5" stroke-linecap="butt"/>
<line x1="411.80" y1="493.12" x2="417.20" y2="493.12" stroke="#000" stroke-width="1.5" stroke-linecap="butt"/>
<line x1="465.70" y1="486.87" x2="465.70" y2="479.44" stroke="#000" stroke-width="1.5" stroke-linecap="butt"/>
<line x1="463.00" y1="479.44" x2="468.40" y2="479.44" stroke="#000" stroke-width="1.5" stroke-linecap="butt"/>
<circle cx="363.30" cy="488.14" r="3.05" fill="#000"/>
<circle cx="414.50" cy="499.47" r="3.05" fill="#000"/>
<circle cx="465.70" cy="486.87" r="3.05" fill="#000"/>
<line x1="465.70" y1="506.70" x2="465.70" y2="487.75" stroke="#000" stroke-width="1.5" stroke-linecap="butt"/>
</svg>
</body></html>
